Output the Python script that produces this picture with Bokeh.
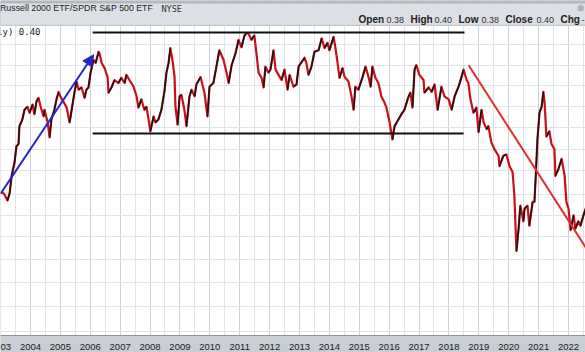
from bokeh.plotting import figure
from bokeh.models import (Range1d, FixedTicker, Grid, Label, Arrow, NormalHead,
                          ColumnDataSource, BoxAnnotation)
from bokeh.embed import file_html
from bokeh.resources import INLINE

# ---- data: IWM:SPY weekly ratio ----
dates = [2003.03, 2003.13, 2003.23, 2003.30, 2003.37, 2003.47, 2003.53, 2003.60, 2003.63, 2003.73,
         2003.80, 2003.90, 2003.97, 2004.07, 2004.13, 2004.20, 2004.27, 2004.34, 2004.44, 2004.47,
         2004.57, 2004.64, 2004.70, 2004.80, 2004.87, 2004.94, 2005.00, 2005.10, 2005.21, 2005.31,
         2005.37, 2005.47, 2005.54, 2005.61, 2005.71, 2005.81, 2005.87, 2005.94, 2006.01, 2006.11,
         2006.18, 2006.28, 2006.31, 2006.38,
         2006.48, 2006.58, 2006.61, 2006.71, 2006.81, 2006.94, 2007.04, 2007.15, 2007.21, 2007.31,
         2007.45, 2007.55, 2007.61, 2007.71, 2007.81, 2007.88, 2007.95, 2008.01, 2008.12, 2008.18,
         2008.28, 2008.38, 2008.48, 2008.55, 2008.62, 2008.68, 2008.75, 2008.82, 2008.85, 2008.92,
         2008.99, 2009.05, 2009.15, 2009.22, 2009.32, 2009.39, 2009.49, 2009.55, 2009.69, 2009.82,
         2009.92, 2009.99, 2010.12, 2010.22, 2010.32, 2010.46, 2010.56, 2010.63, 2010.73, 2010.86,
         2010.96, 2011.06, 2011.16, 2011.23, 2011.29, 2011.39,
         2011.49, 2011.56, 2011.63, 2011.73, 2011.80, 2011.86, 2011.96, 2012.03, 2012.13, 2012.20,
         2012.30, 2012.40, 2012.50, 2012.60, 2012.67, 2012.80, 2012.90, 2012.97, 2013.07, 2013.17,
         2013.23, 2013.30, 2013.40, 2013.50, 2013.64, 2013.74, 2013.84, 2013.94, 2014.00, 2014.14,
         2014.20, 2014.27, 2014.34, 2014.44, 2014.51, 2014.64, 2014.74, 2014.81, 2014.87, 2014.97,
         2015.11, 2015.21, 2015.31, 2015.38, 2015.44, 2015.54, 2015.64, 2015.74,
         2015.84, 2015.91, 2016.01, 2016.11, 2016.18, 2016.31, 2016.41, 2016.51, 2016.65, 2016.71,
         2016.78, 2016.85, 2016.91, 2017.01, 2017.15, 2017.18, 2017.32, 2017.42, 2017.52, 2017.62,
         2017.75, 2017.85, 2017.99, 2018.09, 2018.19, 2018.32, 2018.42, 2018.49, 2018.59, 2018.65,
         2018.72, 2018.82, 2018.92, 2018.99, 2019.09, 2019.16, 2019.26, 2019.32, 2019.42, 2019.52,
         2019.66, 2019.69, 2019.82, 2019.92, 2020.03, 2020.13, 2020.19, 2020.23, 2020.26, 2020.33,
         2020.39, 2020.49, 2020.53, 2020.63, 2020.69, 2020.80, 2020.86, 2020.90, 2020.96, 2021.03,
         2021.10, 2021.16, 2021.20, 2021.26, 2021.36, 2021.43, 2021.53, 2021.56, 2021.66, 2021.77,
         2021.87, 2021.93, 2022.00, 2022.07, 2022.17, 2022.23, 2022.33, 2022.40, 2022.50, 2022.60]

ratio = [0.443, 0.439, 0.431, 0.440, 0.464, 0.483, 0.504, 0.507, 0.531, 0.540,
         0.553, 0.557, 0.549, 0.560, 0.547, 0.564, 0.569, 0.557, 0.544, 0.553,
         0.537, 0.516, 0.540, 0.553, 0.567, 0.577, 0.571, 0.564, 0.556, 0.536,
         0.551, 0.576, 0.591, 0.580, 0.583, 0.569, 0.580, 0.583, 0.603, 0.620,
         0.616, 0.631, 0.629, 0.616,
         0.609, 0.597, 0.576, 0.583, 0.593, 0.589, 0.596, 0.589, 0.600, 0.593,
         0.584, 0.571, 0.556, 0.567, 0.553, 0.557, 0.540, 0.524, 0.544, 0.536,
         0.540, 0.553, 0.577, 0.603, 0.616, 0.636, 0.620, 0.597, 0.557, 0.533,
         0.571, 0.573, 0.553, 0.531, 0.571, 0.580, 0.571, 0.587, 0.597, 0.576,
         0.544, 0.584, 0.589, 0.611, 0.633, 0.620, 0.603, 0.589, 0.613, 0.629,
         0.647, 0.637, 0.653, 0.656, 0.656, 0.647,
         0.653, 0.629, 0.603, 0.596, 0.583, 0.611, 0.603, 0.607, 0.633, 0.607,
         0.600, 0.593, 0.607, 0.580, 0.600, 0.584, 0.587, 0.611, 0.617, 0.623,
         0.616, 0.600, 0.611, 0.631, 0.633, 0.649, 0.636, 0.643, 0.633, 0.651,
         0.637, 0.617, 0.596, 0.609, 0.597, 0.591, 0.571, 0.553, 0.584, 0.580,
         0.597, 0.611, 0.597, 0.584, 0.611, 0.596, 0.589, 0.571,
         0.563, 0.556, 0.537, 0.513, 0.531, 0.540, 0.547, 0.553, 0.571, 0.576,
         0.556, 0.607, 0.613, 0.600, 0.593, 0.576, 0.583, 0.577, 0.587, 0.553,
         0.584, 0.571, 0.567, 0.553, 0.571, 0.584, 0.597, 0.607, 0.593, 0.589,
         0.567, 0.549, 0.556, 0.523, 0.553, 0.536, 0.527, 0.531, 0.509, 0.500,
         0.491, 0.477, 0.491, 0.493, 0.477, 0.469, 0.437, 0.393, 0.363, 0.393,
         0.424, 0.403, 0.420, 0.424, 0.397, 0.429, 0.429, 0.460, 0.513, 0.549,
         0.557, 0.577, 0.563, 0.517, 0.524, 0.507, 0.500, 0.464, 0.473, 0.487,
         0.464, 0.429, 0.420, 0.391, 0.411, 0.393, 0.403, 0.397, 0.411, 0.423]

years = list(range(2003, 2023))
# the 2003 label is cut at the chart's left edge in the original: only "03" shows
year_labels = ["03"] + [str(y) for y in years[1:]]
half_years = [y + 0.5 for y in range(2002, 2023)]
price_grid = [0.641, 0.613, 0.585, 0.557, 0.529, 0.500, 0.471, 0.439, 0.411,
              0.383, 0.352, 0.321, 0.288, 0.255]

# analyst annotations (trend lines)
arrow_x = [2003.00, 2006.11]
arrow_y = [0.440, 0.627]
resist_x = [2006.08, 2018.52]
resist_y = [0.657, 0.657]
support_x = [2006.08, 2018.49]
support_y = [0.521, 0.521]
down_x = [2018.66, 2023.10]
down_y = [0.613, 0.335]

title_text = "Russell 2000 ETF/SPDR S&P 500 ETF"
exchange = "NYSE"
ohlc_names = ["Open", "High", "Low", "Close", "Chg"]
ohlc_values = ["0.38", "0.40", "0.38", "0.40", "-"]
legend_text = "IWM:SPY (Weekly) 0.40"

# ---- figure: frame covers header + plot; axis bar below ----
PXY = 29.89            # pixels per year
X0 = 2002.997
X1 = X0 + 585 / PXY
Y1 = 0.7
Y0 = Y1 - 338 / 750.0


def px2x(px):
    return X0 + px / PXY


def py2y(py):
    return Y1 - py / 750.0


p = figure(width=585, height=352, output_backend="svg", toolbar_location=None,
           x_range=Range1d(X0, X1), y_range=Range1d(Y0, Y1),
           y_axis_location=None, min_border_left=0, min_border_right=0,
           min_border_top=0, min_border_bottom=14)
p.background_fill_color = "#ffffff"
p.border_fill_color = "#c9cdd4"
p.outline_line_color = None
p.xgrid.visible = False
p.ygrid.visible = False

p.add_layout(Grid(dimension=0, ticker=FixedTicker(ticks=half_years),
                  grid_line_color="#e1e4ea", grid_line_width=1))
p.add_layout(Grid(dimension=0, ticker=FixedTicker(ticks=years),
                  grid_line_color="#cdd1d8", grid_line_width=1))
p.add_layout(Grid(dimension=1, ticker=FixedTicker(ticks=price_grid),
                  grid_line_color="#e1e4ea", grid_line_width=1))

ax = p.xaxis[0]
ax.ticker = FixedTicker(ticks=years)
ax.major_label_overrides = {y: l for y, l in zip(years, year_labels)}
ax.major_tick_line_color = None
ax.minor_tick_line_color = None
ax.axis_line_color = "#8e939c"
ax.major_label_standoff = 2
ax.major_label_text_font = "Liberation Sans"
ax.major_label_text_font_size = "9.5px"
ax.major_label_text_color = "#222222"
try:
    ax.background_fill_color = "#c9cdd4"
except Exception:
    pass

# price line: red body, black where the ratio rises
p.line(dates, ratio, line_color="#c8101a", line_width=2.2, line_join="round")
up_idx = [i for i in range(len(ratio) - 1) if ratio[i + 1] > ratio[i]]
src = ColumnDataSource(dict(x0=[dates[i] for i in up_idx], y0=[ratio[i] for i in up_idx],
                            x1=[dates[i + 1] for i in up_idx], y1=[ratio[i + 1] for i in up_idx]))
p.segment("x0", "y0", "x1", "y1", source=src, line_color="#141414", line_width=1.5)

# trend lines
p.line(resist_x, resist_y, line_color="#111111", line_width=2)
p.line(support_x, support_y, line_color="#111111", line_width=2)
p.line(down_x, down_y, line_color="#e0302e", line_width=2)
p.add_layout(Arrow(end=NormalHead(size=11, fill_color="#2626c8", line_color="#2626c8"),
                   x_start=arrow_x[0], y_start=arrow_y[0], x_end=arrow_x[1], y_end=arrow_y[1],
                   line_color="#2626c8", line_width=2))

# header band
p.add_layout(BoxAnnotation(bottom=py2y(25), fill_color="#dcdfe4", fill_alpha=1.0,
                           line_color="#b9bdc5", line_alpha=1.0, line_width=1))
p.add_layout(BoxAnnotation(bottom=py2y(3), fill_color="#b4b8c0", fill_alpha=1.0,
                           line_alpha=0))

p.add_layout(Label(x=px2x(-0.5), y=py2y(8), text=title_text, text_font="Liberation Sans",
                   text_font_size="8.8px", text_color="#222222", text_baseline="middle"))
p.add_layout(Label(x=px2x(161), y=py2y(8.5), text=exchange, text_font="DejaVu Sans Mono",
                   text_font_size="8.5px", text_color="#333333", text_baseline="middle"))
name_px = [358, 410, 458, 505, 560]
val_px = [386, 434, 481, 536, 581]
for n, v, nx, vx in zip(ohlc_names, ohlc_values, name_px, val_px):
    p.add_layout(Label(x=px2x(nx), y=py2y(19.5), text=n, text_font="Liberation Sans",
                       text_font_size="10px", text_font_style="bold", text_color="#222222",
                       text_baseline="middle"))
    p.add_layout(Label(x=px2x(vx), y=py2y(19.5), text=v, text_font="Liberation Sans",
                       text_font_size="9px", text_color="#333333", text_baseline="middle"))
p.add_layout(Label(x=px2x(580), y=py2y(7.5), text="⊗", text_font="DejaVu Sans",
                   text_font_size="9px", text_color="#8a8e96", text_baseline="middle",
                   text_align="center"))
p.add_layout(Label(x=px2x(40), y=py2y(32), text=legend_text,
                   text_font="DejaVu Sans Mono", text_font_size="9px", text_color="#222222",
                   text_baseline="middle", text_align="right"))

open("out.html", "w").write(file_html(p, INLINE))
